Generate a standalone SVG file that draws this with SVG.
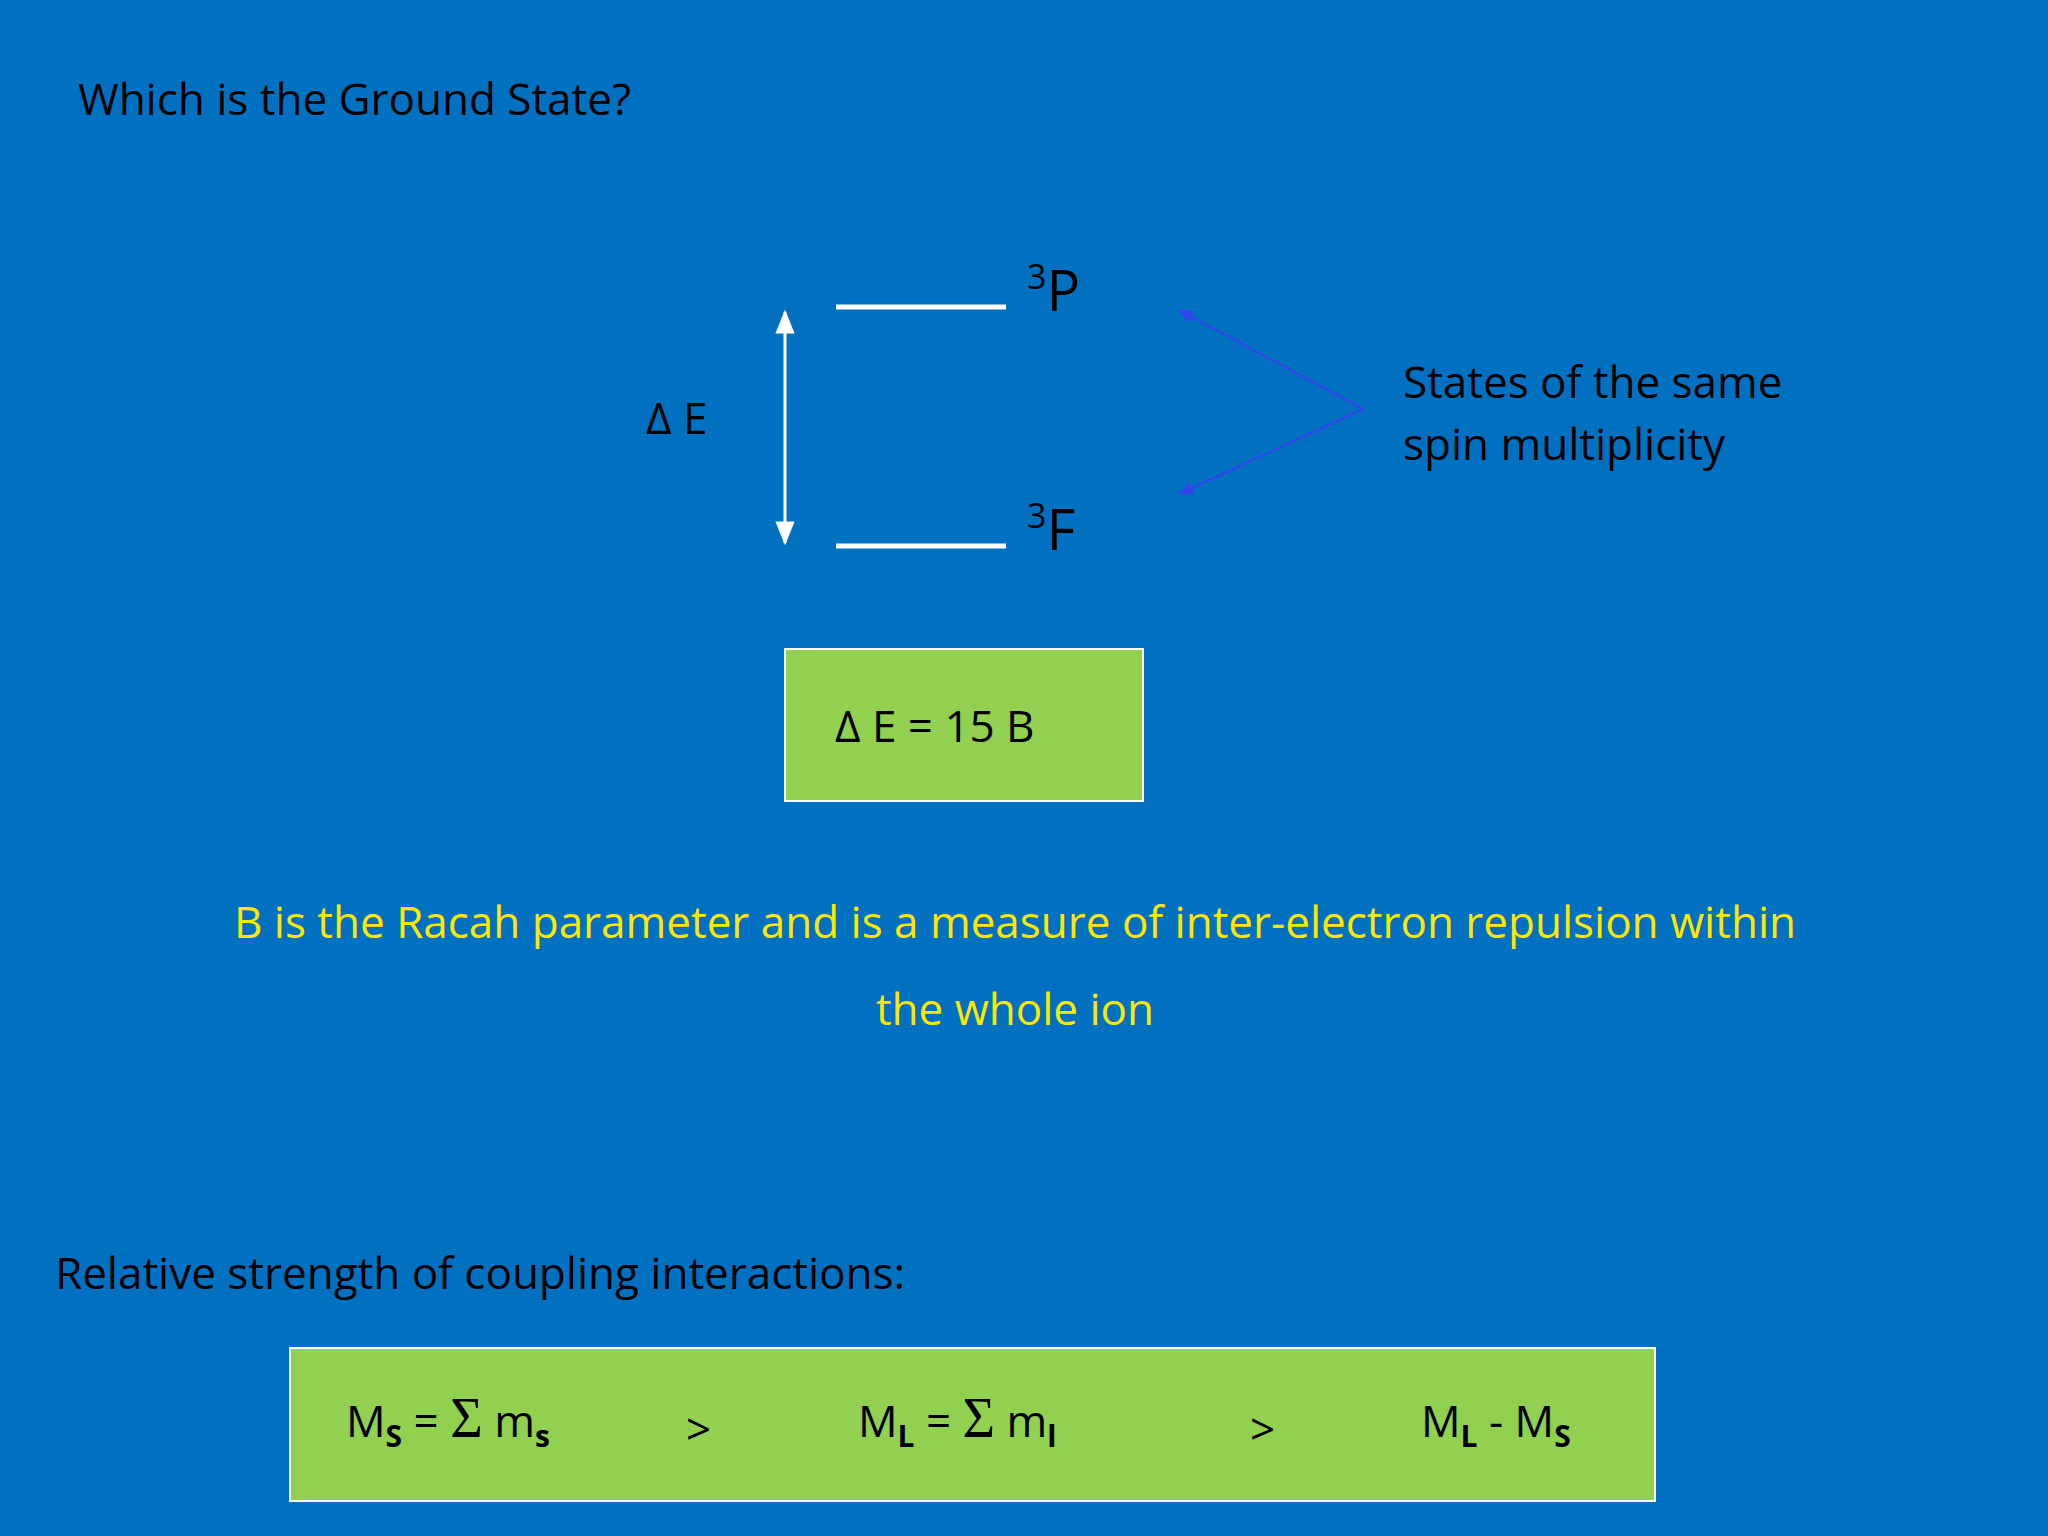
<svg xmlns="http://www.w3.org/2000/svg" width="2048" height="1536" viewBox="0 0 2048 1536">
<defs>
<style>
text{font-family:"Open Sans","Liberation Sans",sans-serif;fill:#000}
.t{font-size:44px}
.y{font-size:44px;fill:#FFE600;text-anchor:middle}
.box{fill:#92D050;stroke:#ffffff;stroke-width:2}
.lvl{stroke:#fff;stroke-width:5}
.sub{font-size:30px;font-weight:bold}
</style>
<marker id="wa" viewBox="0 0 10 10" refX="9" refY="5" markerWidth="8" markerHeight="8" orient="auto-start-reverse"><path d="M0,1 L10,5 L0,9 Z" fill="#fff"/></marker>
<marker id="ba" viewBox="0 0 10 10" refX="9" refY="5" markerWidth="8" markerHeight="8" orient="auto"><path d="M0,1 L10,5 L0,9 Z" fill="#3344EE"/></marker>
</defs>
<rect width="2048" height="1536" fill="#0070C0"/>
<text class="t" x="78" y="115">Which is the Ground State?</text>
<g id="level-3P"><line class="lvl" x1="836" y1="307" x2="1006" y2="307"/><text x="1027" y="311" font-size="56"><tspan font-size="34" dy="-22">3</tspan><tspan dy="22">P</tspan></text></g>
<g id="level-3F"><line class="lvl" x1="836" y1="546" x2="1006" y2="546"/><text x="1027" y="550" font-size="56"><tspan font-size="34" dy="-22">3</tspan><tspan dy="22">F</tspan></text></g>
<g id="deltaE-label"><text class="t" x="646" y="434">Δ E</text></g>
<g id="states-label"><text class="t" x="1403" y="398">States of the same</text><text class="t" x="1403" y="460">spin multiplicity</text></g>
<g id="connectors">
<line x1="785" y1="312" x2="785" y2="543" stroke="#fff" stroke-width="3" marker-start="url(#wa)" marker-end="url(#wa)"/>
<line x1="1363" y1="409" x2="1179" y2="310" stroke="#3344EE" stroke-width="2" marker-end="url(#ba)"/>
<line x1="1363" y1="409" x2="1179" y2="494" stroke="#3344EE" stroke-width="2" marker-end="url(#ba)"/>
</g>
<g id="formula-box"><rect class="box" x="785" y="649" width="358" height="152"/><text class="t" x="835" y="742">Δ E = 15 B</text></g>
<g id="racah-note"><text class="y" x="1015" y="938">B is the Racah parameter and is a measure of inter-electron repulsion within</text><text class="y" x="1015" y="1025">the whole ion</text></g>
<text class="t" x="55" y="1289">Relative strength of coupling interactions:</text>
<g id="coupling-box"><rect class="box" x="290" y="1348" width="1365" height="153"/>
<text class="t" x="346" y="1437">M<tspan class="sub" dy="10">S</tspan><tspan dy="-10"> = </tspan><tspan font-size="56" font-family="Liberation Serif,serif">Σ</tspan><tspan> m</tspan><tspan class="sub" dy="10">s</tspan></text>
<text class="t" x="686" y="1445">&gt;</text>
<text class="t" x="858" y="1437">M<tspan class="sub" dy="10">L</tspan><tspan dy="-10"> = </tspan><tspan font-size="56" font-family="Liberation Serif,serif">Σ</tspan><tspan> m</tspan><tspan class="sub" dy="10">l</tspan></text>
<text class="t" x="1250" y="1445">&gt;</text>
<text class="t" x="1421" y="1437">M<tspan class="sub" dy="10">L</tspan><tspan dy="-10"> - M</tspan><tspan class="sub" dy="10">S</tspan></text>
</g>
</svg>
